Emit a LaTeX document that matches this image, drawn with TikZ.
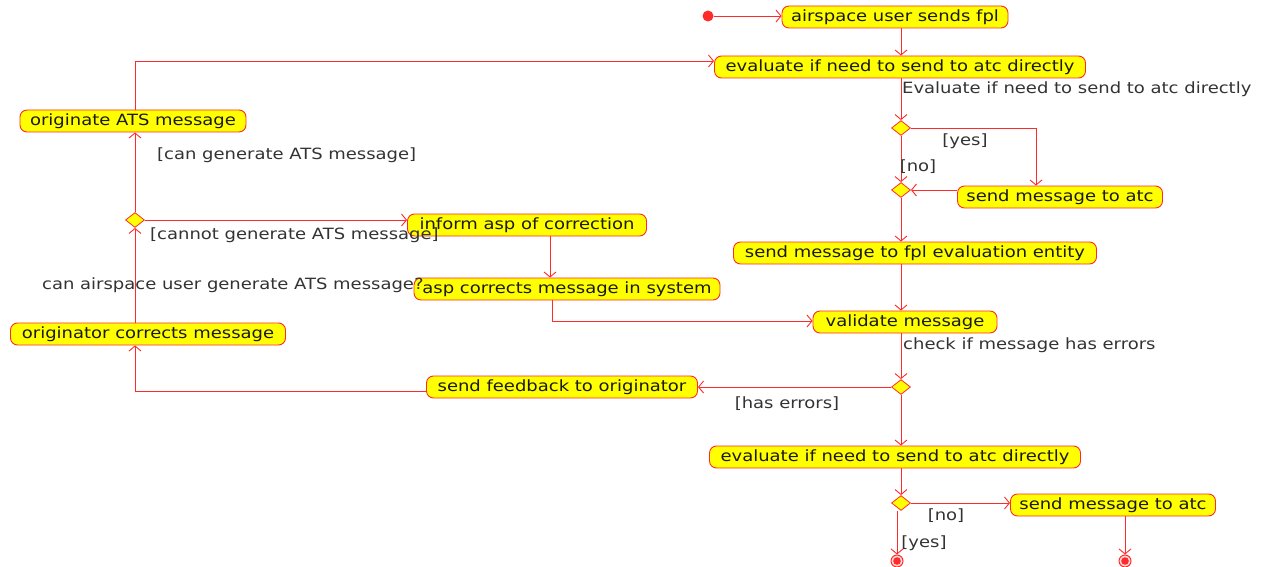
\documentclass[tikz,border=0pt]{standalone}
\usepackage{fontspec}
\setmainfont{DejaVu Sans}[FakeStretch=1.16]
\usetikzlibrary{arrows.meta,shapes.geometric,calc}
\definecolor{lred}{HTML}{FF2A2A}
\definecolor{fillY}{HTML}{FFFF00}
\definecolor{txt}{HTML}{1A1A1A}
\definecolor{ltxt}{HTML}{333333}
\newcommand\fsz{\fontsize{15.5}{18}\selectfont}
\tikzset{
  act/.style={draw=lred, fill=fillY, rounded corners=7pt, line width=0.9pt, inner sep=0pt,
    minimum height=22pt, font=\fsz, text=txt},
  dec/.style={diamond, draw=lred, fill=fillY, line width=0.8pt, minimum width=19pt, minimum height=15pt, inner sep=0pt},
  arr/.style={draw=lred, line width=0.9pt, -{Straight Barb[length=5pt,width=12pt]}},
  lab/.style={font=\fsz, text=ltxt, inner sep=0pt},
  startn/.style={circle, fill=lred, minimum size=11pt, inner sep=0pt},
  endn/.style={circle, draw=lred, line width=1pt, fill=red!15, minimum size=12pt, inner sep=0pt,
    path picture={\fill[lred] (path picture bounding box.center) circle (3.8pt);}}
}
\begin{document}
\begin{tikzpicture}[x=1pt,y=-1pt]
\useasboundingbox (0,0) rectangle (1263,567);
% nodes
\node[startn] (st) at (708,16) {};
\node[act, minimum width=226pt] (A1) at (895,17) {airspace user sends fpl};
\node[act, minimum width=371pt] (A2) at (900,67) {evaluate if need to send to atc directly};
\node[dec] (D1) at (901,128) {};
\node[dec] (D2) at (901,190) {};
\node[act, minimum width=205pt] (A3) at (1060,197) {send message to atc};
\node[act, minimum width=363pt] (A4) at (915,253) {send message to fpl evaluation entity};
\node[act, minimum width=184pt] (A5) at (905,322) {validate message};
\node[dec] (D3) at (901,387) {};
\node[act, minimum width=271pt] (A6) at (562,387) {send feedback to originator};
\node[act, minimum width=275pt] (A7) at (148,334) {originator corrects message};
\node[dec] (D4) at (135,220) {};
\node[act, minimum width=239pt] (A8) at (527,225) {inform asp of correction};
\node[act, minimum width=306pt] (A10) at (567,289) {asp corrects message in system};
\node[act, minimum width=226pt] (A9) at (133,121) {originate ATS message};
\node[act, minimum width=371pt] (A11) at (895,457) {evaluate if need to send to atc directly};
\node[dec] (D5) at (901,503) {};
\node[act, minimum width=205pt] (A12) at (1113,505) {send message to atc};
\node[endn] (E1) at (897,561) {};
\node[endn] (E2) at (1125,561) {};
% column coordinates
\coordinate (cx) at (901,0);
\coordinate (lx) at (135,0);
\coordinate (yesx) at (1036,0);
\coordinate (ax) at (550,0);
\coordinate (ex) at (1125,0);
% edges
\draw[arr] (st) -- (A1.west |- st);
\draw[arr] (A1.south -| cx) -- (A2.north -| cx);
\draw[arr] (A9.north -| lx) |- ([yshift=6pt]A2.west);
\draw[arr] (A2.south -| cx) -- (D1.north);
\node[lab, anchor=west] (L1) at (902,89) {Evaluate if need to send to atc directly};
\draw[arr] (D1.east) -| (A3.north -| yesx);
\node[lab] (Lyes) at (965,141) {[yes]};
\draw[arr] (D1.south) -- (D2.north);
\node[lab] (Lno) at (918,167) {[no]};
\draw[arr] (A3.west |- D2) -- (D2.east);
\draw[arr] (D2.south -| cx) -- (A4.north -| cx);
\draw[arr] (A4.south -| cx) -- (A5.north -| cx);
\draw[arr] (A10.south -| 552,0) |- (A5.west |- 0,321);
\draw[arr] (A5.south -| cx) -- (D3.north);
\node[lab, anchor=west] (L2) at (903,345) {check if message has errors};
\draw[arr] (D3.west) -- (A6.east |- D3);
\node[lab] (Lerr) at (787,404) {[has errors]};
\draw[arr] ([yshift=-4pt]A6.west) -| (A7.south -| lx);
\draw[arr] (A7.north -| lx) -- (D4.south);
\node[lab, anchor=west] (L3) at (42,285) {can airspace user generate ATS message?};
\draw[arr] (D4.east) -- (A8.west |- D4);
\node[lab, anchor=west] (L4) at (150,235) {[cannot generate ATS message]};
\draw[arr] (D4.north) -- (A9.south -| lx);
\node[lab, anchor=west] (L5) at (157,155) {[can generate ATS message]};
\draw[arr] (A8.south -| ax) -- (A10.north -| ax);
\draw[arr] (D3.south) -- (A11.north -| cx);
\draw[arr] (A11.south -| cx) -- (D5.north);
\draw[arr] (D5.east) -- (A12.west |- D5);
\node[lab] (Lno2) at (946,516) {[no]};
\draw[arr] (D5.south -| E1) -- (E1.north);
\node[lab] (Lyes2) at (924,543) {[yes]};
\draw[arr] (A12.south -| ex) -- (E2.north);
\end{tikzpicture}
\end{document}
